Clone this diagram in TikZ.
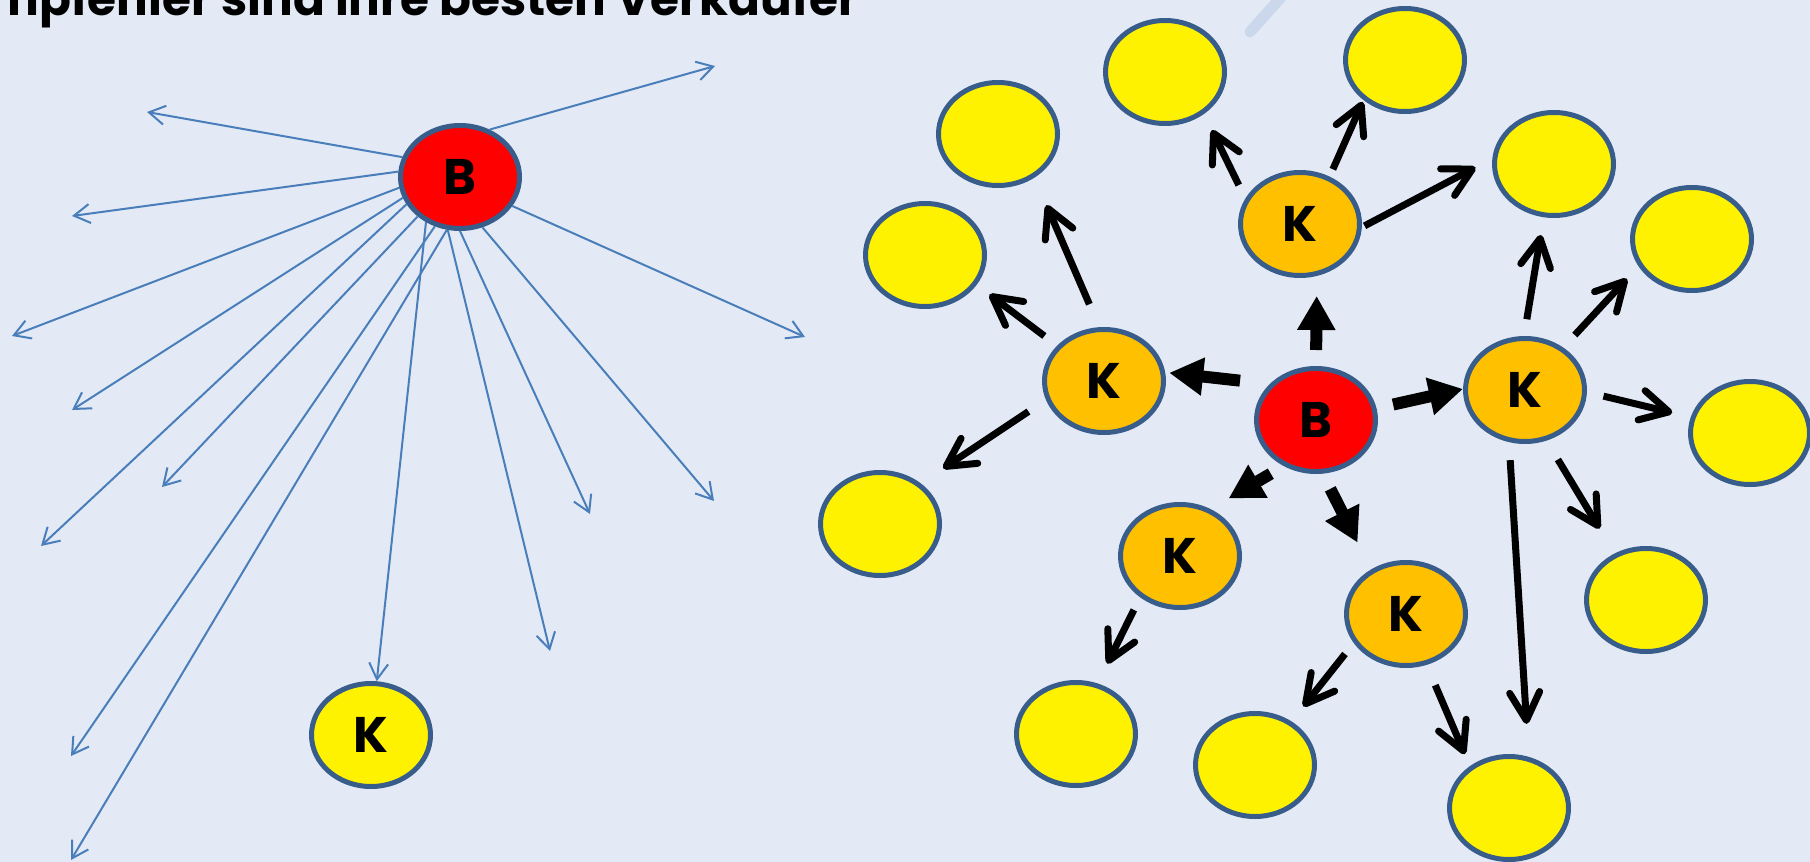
\documentclass[tikz,border=0pt]{standalone}
\usepackage{fontspec}
\newfontfamily\popfont{Poppins}
\usetikzlibrary{arrows.meta,shapes.geometric}

\definecolor{bgblue}{RGB}{227,234,245}
\definecolor{rimblue}{RGB}{56,93,138}
\definecolor{rayblue}{RGB}{74,126,187}
\definecolor{kgold}{RGB}{255,192,0}
\definecolor{smudge}{RGB}{203,216,236}

\tikzset{
  person/.style={ellipse, draw=rimblue, line width=5pt, minimum width=119pt,
    minimum height=103pt, inner sep=0pt,
    font=\popfont\bfseries\fontsize{50}{50}\selectfont},
  ray/.style={draw=rayblue, line width=2pt, -{Straight Barb[length=16pt,width=19pt]}},
  push/.style={draw, line width=12pt, -{Triangle[length=34pt,width=36pt]}},
  pass/.style={draw, line width=7pt, -{Straight Barb[length=28pt,width=30pt,round]}},
}

\begin{document}
\begin{tikzpicture}[x=1pt,y=-1pt]

      \path[use as bounding box, fill=bgblue] (0,0) rectangle (1810,862);
      \clip (0,0) rectangle (1810,862);

      % heading, cut off by the top edge
      \node[anchor=base east, font=\popfont\bfseries\fontsize{47}{47}\selectfont]
        (title) at (862,15) {Empfehler sind ihre besten Verkäufer};
      \draw[smudge, line width=11pt, line cap=round] (1284,-6) -- (1250,32);

      % left: one seller, many loose ends
      \begin{scope}[every node/.style={person}]
        \node[fill=red]    (b0) at (460,177) {B};
        \node[fill=yellow] (k0) at (371,735) {K};
      \end{scope}

      \coordinate (r1)  at (715,66);
      \coordinate (r2)  at (147,112);
      \coordinate (r3)  at (72,216);
      \coordinate (r4)  at (12,336);
      \coordinate (r5)  at (72,410);
      \coordinate (r6)  at (41,546);
      \coordinate (r7)  at (162,487);
      \coordinate (r8)  at (71,756);
      \coordinate (r9)  at (71,860);
      \coordinate (r10) at (550,651);
      \coordinate (r11) at (590,514);
      \coordinate (r12) at (714,501);
      \coordinate (r13) at (805,337);

      \begin{scope}[every edge/.style={ray}]
        \path (b0.58)  edge (r1);
        \path (b0.161) edge (r2);
        \path (b0.175) edge (r3);
        \path (b0.190) edge (r4);
        \path (b0.200) edge (r5);
        \path (b0.207) edge (r6);
        \path (b0.223) edge (r7);
        \path (b0.243) edge (r8);
        \path (b0.256) edge (r9);
        \path (b0.233) edge (k0);
        \path (b0.257) edge (r10);
        \path (b0.270) edge (r11);
        \path (b0.294) edge (r12);
        \path (b0.331) edge (r13);
      \end{scope}

      % right: seller, customers, their contacts
      \begin{scope}[every node/.style={person}]
        \node[fill=red]   (b)  at (1316,420) {B};
        \node[fill=kgold] (k1) at (1104,381) {K};
        \node[fill=kgold] (k2) at (1300,224) {K};
        \node[fill=kgold] (k3) at (1525,390) {K};
        \node[fill=kgold] (k4) at (1180,556) {K};
        \node[fill=kgold] (k5) at (1406,614) {K};
        \node[fill=yellow] (y1)  at (998,134)  {};
        \node[fill=yellow] (y2)  at (1165,72)  {};
        \node[fill=yellow] (y3)  at (1405,60)  {};
        \node[fill=yellow] (y4)  at (1554,164) {};
        \node[fill=yellow] (y5)  at (1692,239) {};
        \node[fill=yellow] (y6)  at (1750,433) {};
        \node[fill=yellow] (y7)  at (1646,600) {};
        \node[fill=yellow] (y8)  at (1509,808) {};
        \node[fill=yellow] (y9)  at (1255,765) {};
        \node[fill=yellow] (y10) at (1076,734) {};
        \node[fill=yellow] (y11) at (880,524)  {};
        \node[fill=yellow] (y12) at (925,255)  {};
      \end{scope}

      \begin{scope}[every edge/.style={push}]
        \path (b.142) edge[shorten <=30pt, shorten >=4pt]  (k1.8);
        \path (b.90)  edge[shorten <=16pt, shorten >=20pt] (k2.288);
        \path (b.11)  edge[shorten <=17pt]                 (k3.179);
        \path (b.235) edge[shorten <=15pt, shorten >=21pt] (k4.57);
        \path (b.277) edge[shorten <=17pt, shorten >=30pt] (k5.128);
      \end{scope}

      \begin{scope}[every edge/.style={pass}]
        \path (k1.143) edge[shorten <=16pt, shorten >=16pt] (y12.330);
        \path (k1.95)  edge[shorten <=25pt, shorten >=30pt] (y1.310);
        \path (k1.198) edge[shorten <=21pt, shorten >=27pt] (y11.45);
        \path (k2.155) edge[shorten <=15pt, shorten >=18pt] (y2.313);
        \path (k2.58)  edge[shorten <=8pt,  shorten >=2pt]  (y3.224);
        \path (k2.357) edge[shorten <=3pt,  shorten >=19pt] (y4.175);
        \path (k3.91)  edge[shorten <=17pt, shorten >=18pt] (y4.259);
        \path (k3.48)  edge[shorten <=17pt, shorten >=17pt] (y5.207);
        \path (k3.358) edge[shorten <=17pt, shorten >=19pt] (y6.165);
        \path (k3.293) edge[shorten <=22pt, shorten >=29pt] (y7.124);
        \path (k3.253) edge[shorten <=18pt, shorten >=33pt] (y8.69);
        \path (k4.226) edge[shorten <=14pt, shorten >=22pt] (y10.67);
        \path (k5.209) edge[shorten <=14pt, shorten >=19pt] (y9.50);
        \path (k5.292) edge[shorten <=22pt, shorten >=13pt] (y8.133);
      \end{scope}

    \end{tikzpicture}
\end{document}
